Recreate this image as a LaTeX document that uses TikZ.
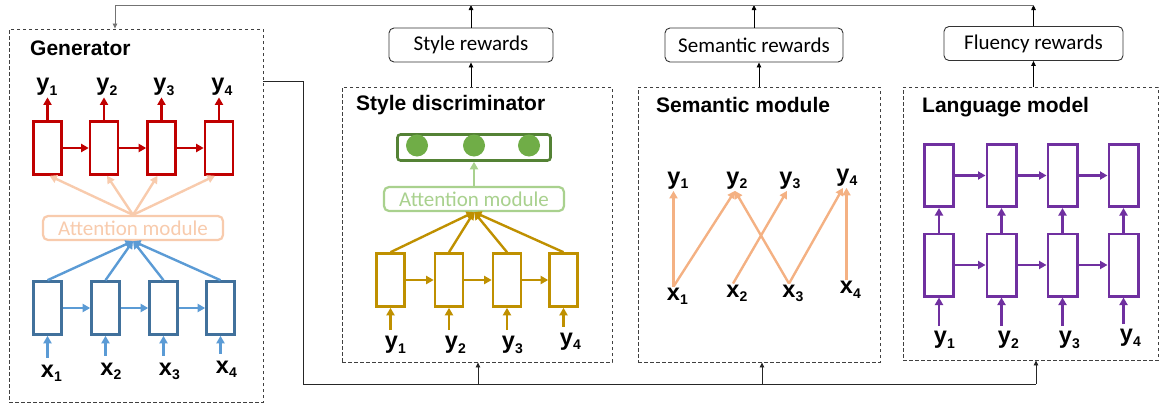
\documentclass[tikz,border=0pt]{standalone}
\usepackage{fontspec}
\setmainfont{Liberation Sans}
\newfontfamily\carl{Carlito}
\usetikzlibrary{arrows.meta,calc}
\definecolor{cred}{HTML}{C00000}
\definecolor{cblueb}{HTML}{41719C}
\definecolor{cbluea}{HTML}{5B9BD5}
\definecolor{cpeach}{HTML}{F8CBAD}
\definecolor{cpeachb}{HTML}{F4B183}
\definecolor{cgreen}{HTML}{548235}
\definecolor{cgreenf}{HTML}{70AD47}
\definecolor{cgreenl}{HTML}{A9D18E}
\definecolor{cgold}{HTML}{BF9000}
\definecolor{cpurp}{HTML}{7030A0}
\newcommand{\vlab}[2]{\textbf{#1}\rlap{\raisebox{-4.5pt}{\fontsize{14}{14}\selectfont\bfseries #2}}}
\tikzset{
  cell/.style={draw, line width=2.6pt, fill=white, inner sep=0pt, minimum width=28pt, minimum height=53pt},
  lmcell/.style={cell, minimum width=29.4pt, minimum height=62.4pt},
  carrow/.style={line width=2.4pt, -{Triangle[length=7.5pt,width=8pt]}},
  thinarrow/.style={line width=0.8pt, -{Triangle[length=5pt,width=4.5pt]}},
  module/.style={draw=black!75, dash pattern=on 3.5pt off 2.5pt, line width=0.9pt, inner sep=0pt},
  reward/.style={draw=black!80, rounded corners=5pt, line width=0.9pt, minimum height=34pt, inner sep=0pt, font=\carl\fontsize{21}{21}\selectfont},
  title/.style={font=\bfseries\fontsize{21}{21}\selectfont, anchor=base west, inner sep=0pt},
  attn/.style={draw, fill=white, rounded corners=5pt, line width=2.2pt, inner sep=0pt, minimum height=24pt, font=\carl\fontsize{21}{21}\selectfont},
  lab/.style={font=\fontsize{23.5}{23.5}\selectfont, anchor=base, inner sep=0pt},
}
\begin{document}
\begin{tikzpicture}[x=1pt,y=-1pt]
\useasboundingbox (0,0) rectangle (1159,407);
% ---------------- modules
\node[module, minimum width=254pt, minimum height=373pt] (gen) at (136,215.5) {};
\node[module, minimum width=270pt, minimum height=275pt] (sd) at (477,224.5) {};
\node[module, minimum width=242pt, minimum height=275pt] (sm) at (759,224.5) {};
\node[module, minimum width=255pt, minimum height=273pt] (lm) at (1030.5,223.5) {};
\node[title] (tg) at (30,55) {Generator};
\node[title] (tsd) at (356,110) {Style discriminator};
\node[title] (tsm) at (656,112) {Semantic module};
\node[title] (tlm) at (922,112) {Language model};
% ---------------- rewards
\node[reward, minimum width=164pt] (rs) at (471,45) {Style rewards};
\node[reward, minimum width=178pt] (rm) at (754,45) {Semantic rewards};
\node[reward, minimum width=179pt] (rf) at (1033.5,43.5) {Fluency rewards};
\coordinate (topL) at (115,5);
\draw[thinarrow] (rs.south |- sd.north) -- (rs.south);
\draw[thinarrow] (sm.north) -- (sm.north |- rm.south);
\draw[thinarrow] (rf.south |- lm.north) -- (rf.south);
\draw[thinarrow] (rs.north) -- (rs.north |- topL);
\draw[thinarrow] (rm.north) -- (rm.north |- topL);
\draw[thinarrow] (rf.north) -- (rf.north |- topL);
\draw[thinarrow, draw=black!55] (rf.north |- topL) -- (topL) -- (topL |- gen.north);
% ---------------- bottom feedback
\coordinate (gout) at ($(gen.north east)+(0,53)$);
\coordinate (b1) at (303,384);
\coordinate (b2) at (1036,384);
\coordinate (b3) at (478,384);
\coordinate (b4) at (762,384);
\draw[line width=0.8pt, draw=black!85] (gout) -| (b1) -- (b2);
\draw[thinarrow, draw=black!85] (b2) -- (b2 |- lm.south);
\draw[thinarrow, draw=black!85] (b3) -- (b3 |- sd.south);
\draw[thinarrow, draw=black!85] (b4) -- (b4 |- sm.south);
% ---------------- generator
\foreach \i/\x in {1/47.5,2/104,3/161.5,4/219} {
  \node[cell, draw=cred] (rc\i) at (\x,148) {};
}
\foreach \i/\x in {1/47.5,2/105.5,3/163.5,4/220.5} {
  \node[cell, draw=cblueb] (bc\i) at (\x,308) {};
}
\node[attn, draw=cpeach, text=cpeach, minimum width=180pt] (att1) at (133,228) {Attention module};
\foreach \i/\j in {1/2,2/3,3/4} {
  \draw[carrow, cred] (rc\i.east) -- (rc\j.west);
  \draw[carrow, cbluea] (bc\i.east) -- (bc\j.west);
}
\draw[carrow, cpeach] (att1.north) -- ([xshift=2pt]rc1.south);
\draw[carrow, cpeach] (att1.north) -- ([xshift=3pt]rc2.south);
\draw[carrow, cpeach] (att1.north) -- ([xshift=-4pt]rc3.south);
\draw[carrow, cpeach] (att1.north) -- ([xshift=-4pt]rc4.south);
\foreach \i in {1,...,4} {
  \draw[carrow, cbluea] (bc\i.north) -- (att1.south);
}
\node[lab, outer ysep=2pt] (gy1) at (43,90.5) {\vlab{y}{1}};
\node[lab, outer ysep=2pt] (gy2) at (103,90.5) {\vlab{y}{2}};
\node[lab, outer ysep=2pt] (gy3) at (160,90.5) {\vlab{y}{3}};
\node[lab, outer ysep=2pt] (gy4) at (218,90.5) {\vlab{y}{4}};
\node[lab, outer ysep=7pt] (gx1) at (47.5,377) {\vlab{x}{1}};
\node[lab, outer ysep=7pt] (gx2) at (107,375) {\vlab{x}{2}};
\node[lab, outer ysep=7pt] (gx3) at (165.5,375) {\vlab{x}{3}};
\node[lab, outer ysep=7pt] (gx4) at (222.5,373) {\vlab{x}{4}};
\foreach \i in {1,...,4} {
  \draw[carrow, cred] (rc\i.north) -- (rc\i.north |- gy\i.south);
  \draw[carrow, cbluea] (bc\i.south |- gx\i.north) -- (bc\i.south);
}
% ---------------- style discriminator
\foreach \i/\x in {1/390.5,2/449,3/507,4/563.5} {
  \node[cell, draw=cgold] (gc\i) at (\x,280) {};
}
\node[attn, draw=cgreenl, text=cgreenl, minimum width=180pt] (att2) at (474,199) {Attention module};
\node[draw=cgreen, fill=white, line width=2.6pt, rounded corners=3pt, minimum width=153pt, minimum height=26pt, inner sep=0pt] (gbox) at (474,147.5) {};
\node[circle, fill=cgreenf, minimum size=22pt, inner sep=0pt] (o1) at (417,145.5) {};
\node[circle, fill=cgreenf, minimum size=22pt, inner sep=0pt] (o2) at (474,145.5) {};
\node[circle, fill=cgreenf, minimum size=22pt, inner sep=0pt] (o3) at (529,145.5) {};
\draw[carrow, cgreenl] (att2.north) -- (gbox.south);
\foreach \i/\j in {1/2,2/3,3/4} {
  \draw[carrow, cgold] (gc\i.east) -- (gc\j.west);
}
\foreach \i in {1,...,4} {
  \draw[carrow, cgold] (gc\i.north) -- (att2.south);
}
\node[lab, outer ysep=6pt] (dy1) at (391.5,348.5) {\vlab{y}{1}};
\node[lab, outer ysep=6pt] (dy2) at (451.5,348.5) {\vlab{y}{2}};
\node[lab, outer ysep=6pt] (dy3) at (508.5,348.5) {\vlab{y}{3}};
\node[lab, outer ysep=6pt] (dy4) at (566.5,345) {\vlab{y}{4}};
\foreach \i in {1,...,4} {
  \draw[carrow, cgold] (gc\i.south |- dy\i.north) -- (gc\i.south);
}
% ---------------- semantic module
\node[lab, outer ysep=2pt] (sy1) at (674,184) {\vlab{y}{1}};
\node[lab, outer ysep=2pt] (sy2) at (733,184) {\vlab{y}{2}};
\node[lab, outer ysep=2pt] (sy3) at (786,184) {\vlab{y}{3}};
\node[lab, outer ysep=2pt] (sy4) at (843,181) {\vlab{y}{4}};
\node[lab, outer ysep=1pt] (sx1) at (673.5,300) {\vlab{x}{1}};
\node[lab, outer ysep=1pt] (sx2) at (733,297) {\vlab{x}{2}};
\node[lab, outer ysep=1pt] (sx3) at (789,297) {\vlab{x}{3}};
\node[lab, outer ysep=1pt] (sx4) at (846.5,293.5) {\vlab{x}{4}};
\draw[carrow, cpeachb] (sx1.north) -- (sx1.north |- sy1.south);
\draw[carrow, cpeachb] (sx1.north) -- ([xshift=2pt]sy2.south);
\draw[carrow, cpeachb] (sx2.north) -- ([xshift=1pt]sy3.south);
\draw[carrow, cpeachb] (sx3.north) -- ([xshift=2pt]sy2.south);
\draw[carrow, cpeachb] (sx3.north) -- (sy4.south);
\draw[carrow, cpeachb] (sx4.north) -- (sx4.north |- sy4.south);
% ---------------- language model
\foreach \i/\x in {1/939,2/1001.5,3/1062.5,4/1123.5} {
  \node[lmcell, draw=cpurp] (lt\i) at (\x,175.5) {};
  \node[lmcell, draw=cpurp] (lb\i) at (\x,265) {};
}
\foreach \i/\j in {1/2,2/3,3/4} {
  \draw[carrow, cpurp] (lt\i.east) -- (lt\j.west);
  \draw[carrow, cpurp] (lb\i.east) -- (lb\j.west);
}
\node[lab, outer ysep=5pt] (ly1) at (940.5,343.5) {\vlab{y}{1}};
\node[lab, outer ysep=5pt] (ly2) at (1004.5,343.5) {\vlab{y}{2}};
\node[lab, outer ysep=5pt] (ly3) at (1065.5,343.5) {\vlab{y}{3}};
\node[lab, outer ysep=5pt] (ly4) at (1126.5,341.5) {\vlab{y}{4}};
\foreach \i in {1,...,4} {
  \draw[carrow, cpurp] (lb\i.north) -- (lt\i.south);
  \draw[carrow, cpurp] (lb\i.south |- ly\i.north) -- (lb\i.south);
}
\end{tikzpicture}
\end{document}
